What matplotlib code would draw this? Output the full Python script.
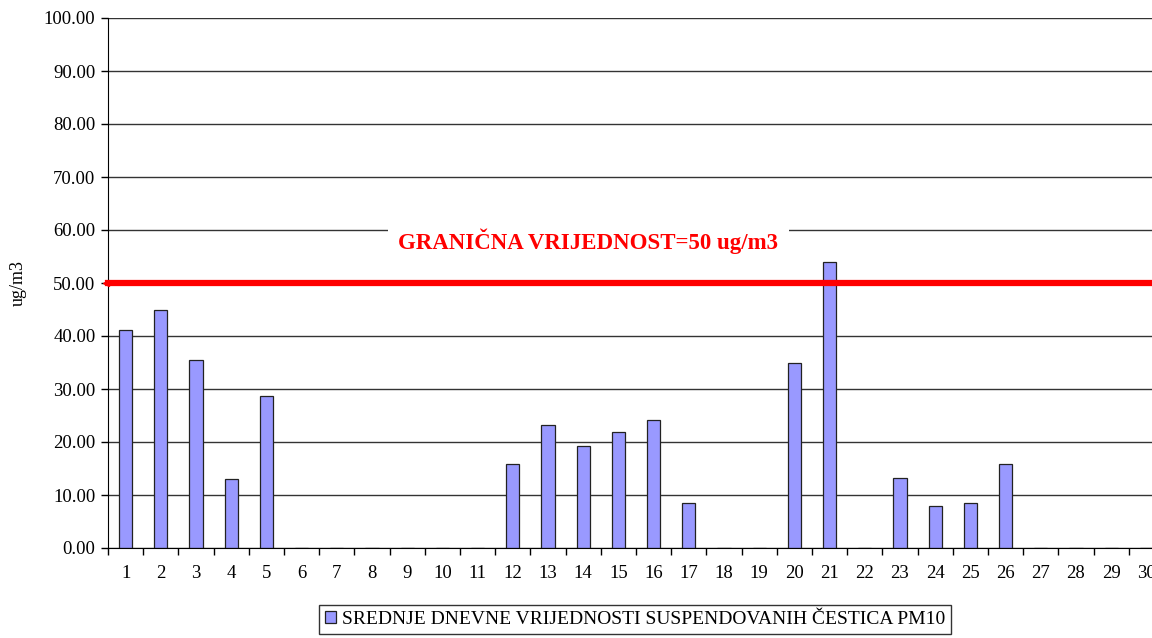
import matplotlib.pyplot as plt
import numpy as np

days = list(range(1, 31))
pm10 = [41.1, 44.9, 35.5, 13.0, 28.7, 0, 0, 0, 0, 0,
        0, 15.8, 23.3, 19.3, 21.9, 24.2, 8.4, 0, 0, 35.0,
        53.9, 0, 13.3, 8.0, 8.4, 15.8, 0, 0, 0, 0]
limit_value = 50
y_ticks = np.arange(0, 101, 10)
legend_label = "SREDNJE DNEVNE VRIJEDNOSTI SUSPENDOVANIH ČESTICA PM10"
limit_label = "GRANIČNA VRIJEDNOST=50 ug/m3"

plt.rcParams['font.family'] = ['Liberation Serif', 'DejaVu Serif']

W, H = 1152, 638
fig = plt.figure(figsize=(W / 100, H / 100), dpi=100)
ax = fig.add_axes([108 / W, 90 / H, 1056 / W, 530 / H])

ax.set_axisbelow(True)
ax.yaxis.grid(True, color='#333333', linewidth=1.0)

x = np.array(days)
ax.bar(x, pm10, width=0.37, color='#9999ff', edgecolor='#222222', linewidth=0.9,
       label=legend_label, zorder=2)

ax.axhline(limit_value, color='#ff0000', linewidth=4.5, zorder=3, clip_on=False)
ax.plot([0.45], [limit_value], marker='<', color='#ff0000', markersize=5, clip_on=False, zorder=3)

ax.text(14.15, 57.8, limit_label, color='#ff0000', fontsize=16.5, fontweight='bold',
        ha='center', va='center', zorder=4,
        bbox=dict(boxstyle='square,pad=0.45', facecolor='white', edgecolor='none'))

ax.set_xlim(0.5, 30.5)
ax.set_ylim(0, 100)
ax.set_yticks(y_ticks)
ax.set_yticklabels([f"{v:.2f}" for v in y_ticks], fontsize=13.5)
ax.set_xticks(x)
ax.set_xticklabels([str(d) for d in days], fontsize=13.5)
ax.set_xticks(np.arange(0.5, 31, 1), minor=True)
ax.tick_params(axis='x', which='major', length=0, pad=12)
ax.tick_params(axis='x', which='minor', length=5, width=1, direction='out')
ax.tick_params(axis='y', length=5, width=1, direction='out', pad=4)

for s in ['top', 'right']:
    ax.spines[s].set_visible(False)
ax.spines['left'].set_color('black')
ax.spines['bottom'].set_color('black')

ax.set_ylabel('ug/m3', fontsize=13, labelpad=12)

leg = fig.legend(loc='upper center', bbox_to_anchor=(635 / W, 1 - 605 / H), fontsize=14,
                 frameon=True, fancybox=False, shadow=False, handlelength=0.6,
                 handleheight=0.6, handletextpad=0.3, borderpad=0.3, borderaxespad=0)
leg.get_frame().set_edgecolor('black')
leg.get_frame().set_linewidth(1.0)

fig.savefig('out.png', dpi=100)
